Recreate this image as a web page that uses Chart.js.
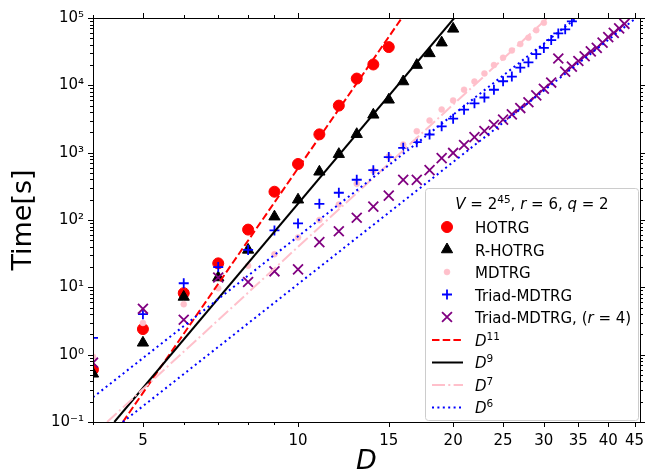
<!DOCTYPE html>
<html>
<head>
<meta charset="utf-8">
<script src="https://cdn.jsdelivr.net/npm/chart.js@4.4.1/dist/chart.umd.min.js"></script>
<style>
  html, body { margin: 0; padding: 0; background: #fff; }
</style>
</head>
<body>
<canvas id="timing" width="659" height="475"></canvas>
<script>
/** DATA: bond dimension D vs. wall time [s] **/
const dHotrg = [4, 5, 6, 7, 8, 9, 10, 11, 12, 13, 14, 15];
const tHotrg = [0.6, 2.4, 8.2, 22.7, 72, 263, 679, 1870, 5000, 12600, 20400, 37000];

const dRHotrg = [4, 5, 6, 7, 8, 9, 10, 11, 12, 13, 14, 15, 16, 17, 18, 19, 20];
const tRHotrg = [0.52, 1.5, 7.2, 14, 36, 112, 200, 520, 950, 1880, 3650, 6100, 11400, 20000, 29800, 43000, 69000];

const dMdtrg = [4, 5, 6, 7, 8, 9, 10, 11, 12, 13, 14, 15, 16, 17, 18, 19, 20, 21, 22, 23, 24, 25, 26, 27, 28, 29, 30];
const tMdtrg = [0.93, 2.96, 5.6, 9.7, 21, 31, 55, 100, 170, 345, 540, 880, 1320, 2080, 3000, 4370, 5970, 8600, 11400, 15000, 20000, 25700, 33000, 41000, 51000, 66000, 85000];

const dTriad = [4, 5, 6, 7, 8, 9, 10, 11, 12, 13, 14, 15, 16, 17, 18, 19, 20, 21, 22, 23, 24, 25, 26, 27, 28, 29, 30, 31, 32, 33, 34];
const tTriad = [1.78, 4.0, 11.5, 20, 36, 70, 89, 174, 254, 396, 550, 860, 1180, 1430, 1860, 2460, 3200, 4350, 5400, 6600, 8600, 11500, 13500, 18300, 22000, 29000, 36000, 47000, 59000, 68000, 89000];

const dTriadR4 = [4, 5, 6, 7, 8, 9, 10, 11, 12, 13, 14, 15, 16, 17, 18, 19, 20, 21, 22, 23, 24, 25, 26, 27, 28, 29, 30, 31, 32, 33, 34, 35, 36, 37, 38, 39, 40, 41, 42, 43];
const tTriadR4 = [0.76, 4.8, 3.3, 14, 12, 17.3, 18.5, 47, 68, 108, 158, 230, 395, 395, 550, 830, 990, 1300, 1700, 2100, 2600, 3100, 3700, 4600, 5600, 7100, 8900, 11000, 25000, 16000, 19000, 23000, 27000, 32000, 36000, 43000, 52000, 60000, 70000, 82000];

// guide lines D^p, end points where they cross the frame
const dGuide11 = [4.57, 15.9];
const tGuide11 = [0.1, 1e5];
const dGuide9 = [4.40, 20.1];
const tGuide9 = [0.1, 1e5];
const dGuide7 = [4.26, 30.5];
const tGuide7 = [0.1, 1e5];
const dGuide6a = [4.0, 34.7];
const tGuide6a = [0.233, 1e5];
const dGuide6b = [4.57, 45.3];
const tGuide6b = [0.1, 1e5];

// axis ticks
const xTickValues = [5, 10, 15, 20, 25, 30, 35, 40, 45];
const xMinorTicks = [4, 6, 7, 8, 9];
const yTickValues = [0.1, 1, 10, 100, 1000, 10000, 100000];
const yTickLabels = ['10\u207B\u00B9', '10\u2070', '10\u00B9', '10\u00B2', '10\u00B3', '10\u2074', '10\u2075'];

const FONT = '"DejaVu Sans", "Liberation Sans", sans-serif';
const pts = (ds, ts) => ds.map((d, i) => ({ x: d, y: ts[i] }));

function markers(label, d, t, style, color, radius, bw, order) {
  return {
    label, data: pts(d, t), showLine: false, order, clip: 0,
    pointStyle: style, pointRadius: radius, pointBorderWidth: bw,
    pointBackgroundColor: color, pointBorderColor: color,
    backgroundColor: color, borderColor: color
  };
}
function guide(label, d, t, color, dash, order) {
  return {
    label, data: pts(d, t), showLine: true, order, clip: 0,
    pointRadius: 0, borderColor: color, borderWidth: 2, borderDash: dash,
    backgroundColor: color, fill: false
  };
}

const datasets = [
  markers('HOTRG', dHotrg, tHotrg, 'circle', '#ff0000', 5.5, 1, 9),
  markers('R-HOTRG', dRHotrg, tRHotrg, 'triangle', '#000000', 6.5, 1, 8),
  markers('MDTRG', dMdtrg, tMdtrg, 'circle', '#ffc0cb', 3, 0.5, 7),
  markers('Triad-MDTRG', dTriad, tTriad, 'cross', '#0000ff', 5, 1.8, 6),
  markers('Triad-MDTRG, (r=4)', dTriadR4, tTriadR4, 'crossRot', '#800080', 7, 1.8, 5),
  guide('D^11', dGuide11, tGuide11, '#ff0000', [7.5, 3.2], 4),
  guide('D^9', dGuide9, tGuide9, '#000000', [], 3),
  guide('D^7', dGuide7, tGuide7, '#ffc0cb', [13, 3.3, 2, 3.3], 2),
  guide('D^6', dGuide6a, tGuide6a, '#0000ff', [2, 3.4], 1),
  guide('', dGuide6b, tGuide6b, '#0000ff', [2, 3.4], 0)
];

// legend rows: dataset index + label pieces (it = italic, sup = superscript)
const legendTitle = [{ t: 'V', it: 1 }, { t: ' = 2' }, { t: '45', sup: 1 }, { t: ', ' }, { t: 'r', it: 1 }, { t: ' = 6, ' }, { t: 'q', it: 1 }, { t: ' = 2' }];
const legendRows = [
  { ds: 0, parts: [{ t: 'HOTRG' }] },
  { ds: 1, parts: [{ t: 'R-HOTRG' }] },
  { ds: 2, parts: [{ t: 'MDTRG' }] },
  { ds: 3, parts: [{ t: 'Triad-MDTRG' }] },
  { ds: 4, parts: [{ t: 'Triad-MDTRG, (' }, { t: 'r', it: 1 }, { t: ' = 4)' }] },
  { ds: 5, parts: [{ t: 'D', it: 1 }, { t: '11', sup: 1 }] },
  { ds: 6, parts: [{ t: 'D', it: 1 }, { t: '9', sup: 1 }] },
  { ds: 7, parts: [{ t: 'D', it: 1 }, { t: '7', sup: 1 }] },
  { ds: 8, parts: [{ t: 'D', it: 1 }, { t: '6', sup: 1 }] }
];

function drawRich(ctx, parts, x, y, size, measureOnly) {
  let cx = x;
  parts.forEach(p => {
    const fs = p.sup ? size * 0.7 : size;
    ctx.font = (p.it ? 'italic ' : '') + fs + 'px ' + FONT;
    if (!measureOnly) ctx.fillText(p.t, cx, p.sup ? y - size * 0.4 : y);
    cx += ctx.measureText(p.t).width;
  });
  return cx - x;
}

/** frame, mirrored ticks and the legend box **/
const axesDecor = {
  id: 'axesDecor',
  afterDatasetsDraw(chart) {
    const { ctx, chartArea: a, scales: { x, y } } = chart;
    ctx.save();
    ctx.strokeStyle = '#000';
    ctx.lineWidth = 1;
    ctx.setLineDash([]);
    ctx.beginPath();
    const seg = (x1, y1, x2, y2) => { ctx.moveTo(x1, y1); ctx.lineTo(x2, y2); };
    const xt = (v, len) => { const p = Math.round(x.getPixelForValue(v)) + 0.5; seg(p, a.bottom, p, a.bottom + len); seg(p, a.top, p, a.top - len); };
    const yt = (v, len) => { const p = Math.round(y.getPixelForValue(v)) + 0.5; seg(a.left, p, a.left - len, p); seg(a.right, p, a.right + len, p); };
    xTickValues.forEach(v => xt(v, 5));
    xMinorTicks.forEach(v => xt(v, 3));
    yTickValues.forEach(v => yt(v, 5));
    for (let e = -1; e < 5; e++) {
      for (let m = 2; m < 10; m++) yt(m * Math.pow(10, e), 3);
    }
    ctx.stroke();
    ctx.strokeRect(a.left + 0.5, a.top + 0.5, a.right - a.left, a.bottom - a.top);

    // legend, lower right
    const bx = 425.5, by = 188.5, bw = 213, bh = 232, r = 3;
    ctx.beginPath();
    ctx.moveTo(bx + r, by);
    ctx.arcTo(bx + bw, by, bx + bw, by + bh, r);
    ctx.arcTo(bx + bw, by + bh, bx, by + bh, r);
    ctx.arcTo(bx, by + bh, bx, by, r);
    ctx.arcTo(bx, by, bx + bw, by, r);
    ctx.closePath();
    ctx.fillStyle = 'rgba(255,255,255,0.8)';
    ctx.fill();
    ctx.strokeStyle = '#cccccc';
    ctx.stroke();

    ctx.fillStyle = '#000';
    ctx.textBaseline = 'alphabetic';
    ctx.textAlign = 'left';
    const tw = drawRich(ctx, legendTitle, 0, 0, 15, true);
    drawRich(ctx, legendTitle, bx + bw / 2 - tw / 2, 209, 15);

    legendRows.forEach((row, i) => {
      const cy = 227 + i * 22.5;
      const ds = chart.data.datasets[row.ds];
      ctx.save();
      if (ds.showLine) {
        ctx.strokeStyle = ds.borderColor;
        ctx.lineWidth = ds.borderWidth;
        ctx.setLineDash(ds.borderDash);
        ctx.beginPath();
        ctx.moveTo(432, cy + 0.5);
        ctx.lineTo(463, cy + 0.5);
        ctx.stroke();
      } else {
        ctx.fillStyle = ds.pointBackgroundColor;
        ctx.strokeStyle = ds.pointBorderColor;
        ctx.lineWidth = ds.pointBorderWidth;
        Chart.helpers.drawPoint(ctx, { pointStyle: ds.pointStyle, radius: ds.pointRadius, borderWidth: ds.pointBorderWidth, rotation: 0 }, 447, cy);
      }
      ctx.restore();
      ctx.fillStyle = '#000';
      drawRich(ctx, row.parts, 475, cy + 6, 15);
    });
    ctx.restore();
  }
};

new Chart(document.getElementById('timing'), {
  type: 'scatter',
  data: { datasets },
  plugins: [axesDecor],
  options: {
    responsive: false,
    animation: false,
    events: [],
    layout: { padding: { top: 15, right: 19, left: 0, bottom: 0 } },
    plugins: { legend: { display: false }, tooltip: { enabled: false } },
    scales: {
      x: {
        type: 'logarithmic', min: 4, max: 46.1,
        grid: { display: false, drawTicks: false },
        border: { display: false },
        afterFit: s => { s.height = 53; },
        afterBuildTicks: s => { s.ticks = xTickValues.map(v => ({ value: v })); },
        ticks: {
          autoSkip: false, maxRotation: 0, padding: 10, color: '#000',
          font: { family: FONT, size: 15 },
          callback: v => String(v)
        },
        title: {
          display: true, text: 'D', color: '#000',
          font: { family: FONT, size: 27, style: 'italic', lineHeight: 1 },
          padding: { top: 0, bottom: 0 }
        }
      },
      y: {
        type: 'logarithmic', min: 0.1, max: 1e5,
        grid: { display: false, drawTicks: false },
        border: { display: false },
        afterFit: s => { s.width = 93; },
        afterBuildTicks: s => { s.ticks = yTickValues.map(v => ({ value: v })); },
        ticks: {
          autoSkip: false, padding: 9, color: '#000',
          font: { family: FONT, size: 15 },
          callback: (v, i) => yTickLabels[i]
        },
        title: {
          display: true, text: 'Time[s]', color: '#000',
          font: { family: FONT, size: 27, lineHeight: 1.2 },
          padding: { top: 8, bottom: 0 }
        }
      }
    }
  }
});
</script>
</body>
</html>
